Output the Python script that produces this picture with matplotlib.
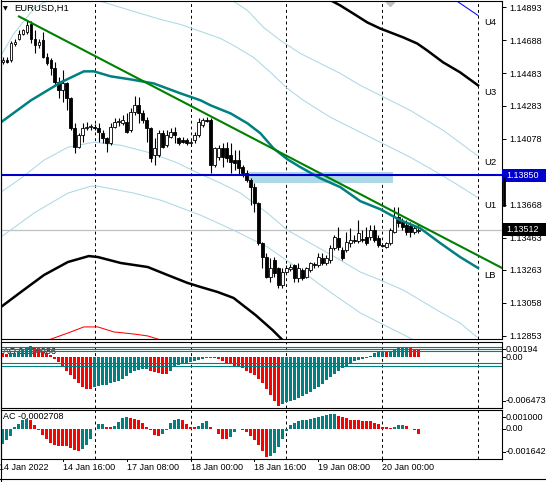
import numpy as np
import matplotlib.pyplot as plt
import matplotlib.transforms as mtransforms
from matplotlib.patches import Rectangle

plt.rcParams['font.family'] = ['Liberation Sans', 'DejaVu Sans']

# ---- EURUSD H1 candles (first bar = 14 Jan 01:00) ----
opens = [1.14552, 1.14564, 1.14564, 1.14663, 1.14700, 1.14731, 1.14738, 1.14793, 1.14700, 1.14657,
         1.14688, 1.14583, 1.14564, 1.14514, 1.14428, 1.14378, 1.14421, 1.14328, 1.14142, 1.14025,
         1.14099, 1.14142, 1.14149, 1.14149, 1.14142, 1.14111, 1.14080, 1.14050, 1.14149, 1.14180,
         1.14173, 1.14180, 1.14130, 1.14242, 1.14285, 1.14235, 1.14192, 1.14142, 1.13976, 1.13976,
         1.14111, 1.14037, 1.14087, 1.14118, 1.14080, 1.14068, 1.14068, 1.14050, 1.14068, 1.14099,
         1.14161, 1.14192, 1.14192, 1.13913, 1.13963, 1.14018, 1.14018, 1.13976, 1.13944, 1.13944,
         1.13901, 1.13863, 1.13820, 1.13777, 1.13678, 1.13430, 1.13343, 1.13219, 1.13324, 1.13275,
         1.13169, 1.13250, 1.13269, 1.13293, 1.13212, 1.13262, 1.13219, 1.13262, 1.13299, 1.13293,
         1.13337, 1.13306, 1.13324, 1.13399, 1.13461, 1.13386, 1.13386, 1.13430, 1.13448, 1.13442,
         1.13455, 1.13467, 1.13467, 1.13510, 1.13461, 1.13417, 1.13405, 1.13430, 1.13498, 1.13591,
         1.13560, 1.13541, 1.13535, 1.13498, 1.13504]
highs = [1.14583, 1.14583, 1.14682, 1.14694, 1.14750, 1.14762, 1.14812, 1.14806, 1.14750, 1.14700,
         1.14738, 1.14607, 1.14576, 1.14552, 1.14459, 1.14502, 1.14428, 1.14335, 1.14173, 1.14111,
         1.14173, 1.14180, 1.14167, 1.14167, 1.14173, 1.14130, 1.14087, 1.14173, 1.14204, 1.14204,
         1.14223, 1.14235, 1.14266, 1.14341, 1.14335, 1.14254, 1.14211, 1.14149, 1.14080, 1.14130,
         1.14130, 1.14130, 1.14142, 1.14149, 1.14087, 1.14087, 1.14080, 1.14068, 1.14118, 1.14204,
         1.14204, 1.14211, 1.14204, 1.14025, 1.14037, 1.14050, 1.14056, 1.14050, 1.14006, 1.14006,
         1.13913, 1.13882, 1.13832, 1.13802, 1.13684, 1.13436, 1.13368, 1.13337, 1.13343, 1.13281,
         1.13275, 1.13293, 1.13299, 1.13299, 1.13306, 1.13275, 1.13281, 1.13312, 1.13312, 1.13368,
         1.13368, 1.13355, 1.13417, 1.13479, 1.13529, 1.13405, 1.13498, 1.13522, 1.13479, 1.13572,
         1.13510, 1.13529, 1.13541, 1.13541, 1.13479, 1.13430, 1.13436, 1.13522, 1.13653, 1.13653,
         1.13584, 1.13572, 1.13560, 1.13541, 1.13547]
lows = [1.14539, 1.14545, 1.14552, 1.14651, 1.14688, 1.14719, 1.14731, 1.14669, 1.14607, 1.14638,
        1.14576, 1.14533, 1.14471, 1.14409, 1.14328, 1.14304, 1.14254, 1.14130, 1.13987, 1.14018,
        1.14056, 1.14130, 1.14130, 1.14130, 1.14056, 1.14050, 1.13994, 1.14037, 1.14142, 1.14155,
        1.14161, 1.14111, 1.14118, 1.14223, 1.14173, 1.14173, 1.14056, 1.13932, 1.13913, 1.13963,
        1.14018, 1.14025, 1.14080, 1.14050, 1.14037, 1.14050, 1.14037, 1.14037, 1.14050, 1.14087,
        1.14149, 1.14180, 1.13863, 1.13901, 1.13944, 1.13901, 1.13932, 1.13863, 1.13882, 1.13851,
        1.13839, 1.13808, 1.13665, 1.13622, 1.13417, 1.13275, 1.13212, 1.13188, 1.13219, 1.13151,
        1.13151, 1.13244, 1.13256, 1.13188, 1.13188, 1.13200, 1.13212, 1.13250, 1.13275, 1.13281,
        1.13293, 1.13293, 1.13306, 1.13386, 1.13386, 1.13324, 1.13374, 1.13405, 1.13430, 1.13430,
        1.13436, 1.13417, 1.13448, 1.13436, 1.13405, 1.13405, 1.13399, 1.13417, 1.13492, 1.13529,
        1.13510, 1.13479, 1.13467, 1.13486, 1.13492]
closes = [1.14564, 1.14552, 1.14669, 1.14676, 1.14731, 1.14750, 1.14781, 1.14700, 1.14657, 1.14676,
          1.14583, 1.14545, 1.14514, 1.14428, 1.14378, 1.14421, 1.14328, 1.14142, 1.14025, 1.14099,
          1.14142, 1.14149, 1.14155, 1.14142, 1.14118, 1.14080, 1.14050, 1.14149, 1.14180, 1.14186,
          1.14192, 1.14118, 1.14242, 1.14285, 1.14235, 1.14192, 1.14142, 1.13957, 1.14018, 1.14111,
          1.14025, 1.14099, 1.14118, 1.14099, 1.14050, 1.14056, 1.14050, 1.14056, 1.14099, 1.14180,
          1.14192, 1.14186, 1.13913, 1.14018, 1.14018, 1.13963, 1.13957, 1.13932, 1.13926, 1.13895,
          1.13863, 1.13820, 1.13777, 1.13678, 1.13430, 1.13343, 1.13219, 1.13275, 1.13244, 1.13169,
          1.13250, 1.13275, 1.13281, 1.13212, 1.13275, 1.13212, 1.13275, 1.13306, 1.13293, 1.13343,
          1.13306, 1.13337, 1.13399, 1.13467, 1.13405, 1.13337, 1.13436, 1.13448, 1.13442, 1.13492,
          1.13448, 1.13430, 1.13510, 1.13448, 1.13417, 1.13411, 1.13430, 1.13510, 1.13591, 1.13553,
          1.13529, 1.13498, 1.13498, 1.13522, 1.13512]

# ---- band lines, read as (bar index, price) ----
ma_x = [-0.5, 7, 14.5, 20.25, 22.75, 27, 32, 37.75, 44.5, 49.5, 52, 57, 61.25, 64.5, 67.75,
        71.25, 74.5, 79.5, 84.5, 89.5, 94.5, 99.5, 104.5, 109.5, 114.5, 119]
ma_y = [1.14180, 1.14316, 1.14428, 1.14496, 1.14496, 1.14465, 1.14446, 1.14421, 1.14359, 1.14316,
        1.14285, 1.14235, 1.14173, 1.14111, 1.14018, 1.13950, 1.13901, 1.13832, 1.13777, 1.13690,
        1.13640, 1.13572, 1.13522, 1.13430, 1.13343, 1.13275]

u1_x = [-0.5, 2.75, 7.75, 10.25, 14.5, 19.5, 23.75, 32, 39.5, 44.5, 49.5, 54.5, 57.75, 62.75,
        67, 71.25, 75.25, 82, 89.5, 94.5, 102, 107.75, 113.25, 118.75]
u1_y = [1.14595, 1.14731, 1.14886, 1.14924, 1.14955, 1.14961, 1.14936, 1.14874, 1.14818, 1.14787,
        1.14744, 1.14700, 1.14657, 1.14583, 1.14490, 1.14390, 1.14316, 1.14211, 1.14118, 1.14056,
        1.13963, 1.13882, 1.13801, 1.13715]
u2_x = [55.75, 57.5, 61.25, 65.25, 69.5, 74.5, 79.5, 84.5, 89.5, 94.5, 102, 110.25, 118.75]
u2_y = [1.14967, 1.14936, 1.14874, 1.14769, 1.14688, 1.14607, 1.14545, 1.14483, 1.14409, 1.14347,
        1.14254, 1.14130, 1.13975]
u3_x = [80.75, 84.5, 87.75, 91.25, 94.5, 100.25, 103.75, 106.25, 110.25, 114.5, 119]
u3_y = [1.14955, 1.14905, 1.14855, 1.14800, 1.14762, 1.14707, 1.14669, 1.14626, 1.14552, 1.14490,
        1.14409]
u4_x = [112, 119]
u4_y = [1.14961, 1.14843]

l1_x = [-0.5, 4.5, 10.25, 16.25, 22.75, 29.5, 36.25, 43.25, 49.5, 54.5, 59.5, 66.25, 71.25, 77,
        82.75, 89.5, 94.5, 100.25, 104.5, 109.5, 114.5, 118.75]
l1_y = [1.13746, 1.13832, 1.13944, 1.14025, 1.14056, 1.14037, 1.13994, 1.13932, 1.13857, 1.13802,
        1.13740, 1.13616, 1.13510, 1.13429, 1.13349, 1.13250, 1.13200, 1.13138, 1.13076, 1.13002,
        1.12933, 1.12846]
l2_x = [-0.5, 7.75, 16.25, 22, 23.75, 32.75, 39.5, 49.5, 57.75, 66.25, 72.75, 81.25, 89.5, 94.5,
        99.5, 104.5]
l2_y = [1.13467, 1.13616, 1.13740, 1.13783, 1.13783, 1.13740, 1.13696, 1.13603, 1.13510, 1.13405,
        1.13293, 1.13138, 1.12996, 1.12933, 1.12871, 1.12809]
l3_x = [-0.5, 4.5, 10.25, 16.25, 21.5, 23.75, 29.5, 36.25, 41.25, 46.25, 49.5, 53.75, 57.75,
        63.25, 67.5, 70.5]
l3_y = [1.13033, 1.13126, 1.13231, 1.13312, 1.13349, 1.13343, 1.13306, 1.13281, 1.13231, 1.13182,
        1.13157, 1.13126, 1.13089, 1.12983, 1.12890, 1.12816]
l4_x = [10.75, 12.75, 16.25, 20.25, 23.75, 27.75, 32.75, 36.25, 39.5]
l4_y = [1.12822, 1.12840, 1.12871, 1.12909, 1.12909, 1.12878, 1.12865, 1.12853, 1.12828]

# trend line anchors, levels, zone
trend_x = [4, 125]
trend_y = [1.14837, 1.13275]
level_price = 1.13850
last_price = 1.13512
zone_x = [61.5, 97.75]
zone_y = [1.13803, 1.13871]
marker_x = [97]
marker_y = [1.14928]

band_labels = ['U4', 'U3', 'U2', 'U1', 'LB']
band_label_y = [1.14800, 1.14366, 1.13932, 1.13665, 1.13231]

# 1.13873 sits under the level box, so it is left out
price_ticks = [1.14893, 1.14688, 1.14483, 1.14283, 1.14078, 1.13668, 1.13463,
               1.13263, 1.13058, 1.12853]

# ---- Awesome / Accelerator oscillators ----
ao = [0.00058, 0.00041, 0.00049, 0.00058, 0.00075, 0.00092, 0.00113, 0.00143, 0.00126, 0.00100,
      0.00075, 0.00049, 0.00024, -0.00019, -0.00065, -0.00121, -0.00172, -0.00227, -0.00282, -0.00333,
      -0.00376, -0.00401, -0.00410, -0.00384, -0.00367, -0.00359, -0.00350, -0.00333, -0.00320, -0.00299,
      -0.00274, -0.00240, -0.00206, -0.00180, -0.00167, -0.00155, -0.00150, -0.00172, -0.00189, -0.00201,
      -0.00210, -0.00212, -0.00172, -0.00125, -0.00095, -0.00078, -0.00070, -0.00061, -0.00048, -0.00031,
      -0.00019, -0.00010, -0.00006, -0.00014, -0.00027, -0.00048, -0.00070, -0.00091, -0.00112, -0.00121,
      -0.00142, -0.00172, -0.00197, -0.00231, -0.00278, -0.00333, -0.00410, -0.00486, -0.00559, -0.00617,
      -0.00597, -0.00576, -0.00559, -0.00542, -0.00525, -0.00499, -0.00474, -0.00444, -0.00410, -0.00376,
      -0.00338, -0.00295, -0.00252, -0.00218, -0.00180, -0.00142, -0.00108, -0.00074, -0.00053, -0.00036,
      -0.00023, -0.00006, 0.00015, 0.00049, 0.00064, 0.00066, 0.00062, 0.00083, 0.00109, 0.00126,
      0.00128, 0.00130, 0.00126, 0.00109, 0.000986]
ac = [-0.00081, -0.00063, -0.00041, 0.00011, 0.00026, 0.00044, 0.00052, 0.00044, 0.00020, -0.00007,
      -0.00035, -0.00059, -0.00078, -0.00089, -0.00092, -0.00094, -0.00096, -0.00103, -0.00115, -0.00122,
      -0.00109, -0.00091, -0.00054, -0.00004, 0.00022, 0.00026, 0.00011, 0.00007, 0.00015, 0.00037,
      0.00055, 0.00061, 0.00059, 0.00052, 0.00044, 0.00031, 0.00011, -0.00007, -0.00033, -0.00041,
      -0.00030, -0.00007, 0.00030, 0.00046, 0.00050, 0.00044, 0.00024, 0.00011, 0.00007, 0.00015,
      0.00030, 0.00043, 0.00011, -0.00004, -0.00031, -0.00055, -0.00059, -0.00044, -0.00018, -0.00004,
      -0.00006, -0.00017, -0.00041, -0.00063, -0.00091, -0.00122, -0.00152, -0.00150, -0.00133, -0.00100,
      -0.00057, -0.00011, 0.00020, 0.00030, 0.00039, 0.00044, 0.00048, 0.00052, 0.00057, 0.00063,
      0.00070, 0.00074, 0.00076, 0.00079, 0.00070, 0.00063, 0.00055, 0.00048, 0.00046, 0.00044,
      0.00043, 0.00042, 0.00039, 0.00031, 0.00022, 0.00011, 0.00006, 0.00002, 0.00007, 0.00017,
      0.00018, 0.00015, 0.00000, -0.00009, -0.0002708]
ao_levels = [0.00125, 0.00100, 0.00082, -0.00078, -0.00106]
ao_range = (-0.006473, 0.00194)
ac_range = (-0.001642, 0.001000)

# time axis
tick_idx = [-1, 15, 31, 47, 63, 79, 95]
tick_lbl = ['14 Jan 2022', '14 Jan 16:00', '17 Jan 08:00', '18 Jan 00:00',
            '18 Jan 16:00', '19 Jan 08:00', '20 Jan 00:00']
day_idx = [23, 47, 71, 95, 119]

W, H = 546, 482
TEAL, RED, LBLUE = '#008080', '#ff0000', '#add8e6'
FS = 6.5


def box(x0, y0, x1, y1):
    return [x0 / W, 1 - y1 / H, (x1 - x0) / W, (y1 - y0) / H]


fig = plt.figure(figsize=(W / 100, H / 100), dpi=100)
ax = fig.add_axes(box(1, 0.5, 502, 339))
ax_ao = fig.add_axes(box(1, 342, 502, 408))
ax_ac = fig.add_axes(box(1, 410, 502, 459))

idx = np.arange(len(opens))
o, h, l, c = map(np.array, (opens, highs, lows, closes))

for a in (ax, ax_ao, ax_ac):
    a.set_xlim(-0.5, 125)
    a.set_xticks([])
    for s in a.spines.values():
        s.set_linewidth(0.8)
    for d in day_idx:
        a.axvline(d, color='black', lw=0.7, ls=(0, (3, 3)), zorder=1)

# ---- main panel ----
ax.set_ylim(1.12834, 1.14936)
ax.yaxis.tick_right()
ax.set_yticks(price_ticks)
ax.set_yticklabels([f'{p:.5f}' for p in price_ticks])
ax.tick_params(axis='y', length=3, width=0.7, pad=2, labelsize=FS)

ax.fill_between(zone_x, zone_y[0], zone_y[1], color=LBLUE, lw=0, zorder=1.5)
ax.axhline(last_price, color='#c0c0c0', lw=0.9, zorder=1.6)
ax.axhline(level_price, color='#0000cd', lw=1.5, zorder=6)

for xs, ys in ((u1_x, u1_y), (u2_x, u2_y), (l1_x, l1_y), (l2_x, l2_y)):
    ax.plot(xs, ys, color=LBLUE, lw=0.75, zorder=2)
ax.plot(u3_x, u3_y, color='black', lw=1.8, zorder=2)
ax.plot(l3_x, l3_y, color='black', lw=1.8, zorder=2)
ax.plot(u4_x, u4_y, color='blue', lw=0.75, zorder=2)
ax.plot(l4_x, l4_y, color=RED, lw=0.75, zorder=2)
ax.plot(ma_x, ma_y, color=TEAL, lw=1.8, zorder=5)
ax.plot(trend_x, trend_y, color='#008000', lw=1.5, zorder=5)
ax.plot(marker_x, marker_y, marker='D', ms=4, color='#c0c0c0', lw=0, zorder=2)

up = c >= o
body_lo = np.minimum(o, c)
body_h = np.maximum(np.abs(c - o), 0.00002)
ax.vlines(idx, l, h, color='black', lw=0.8, zorder=3)
ax.bar(idx, body_h, 0.7, bottom=body_lo, color=np.where(up, 'white', 'black'),
       edgecolor='black', lw=0.6, zorder=4)

for name, y in zip(band_labels, band_label_y):
    ax.text(120.5, y, name, fontsize=FS + 0.3, ha='left', va='center', zorder=7)

ax.text(13 / 501, 1 - 8 / 339, 'EURUSD,H1', transform=ax.transAxes, fontsize=6.8,
        ha='left', va='center', zorder=7)
ax.text(2 / 501, 1 - 8 / 339, '\u25bc', transform=ax.transAxes, fontsize=4.5,
        family='DejaVu Sans', ha='left', va='center', zorder=7)

# price boxes on the axis
bt = mtransforms.blended_transform_factory(ax.transAxes, ax.transData)
half = 6.5 * (1.14936 - 1.12834) / 338.5
for price, bg in ((level_price, '#0000cd'), (last_price, 'black')):
    ax.add_patch(Rectangle((1.0, price - half), 0.1, 2 * half, transform=bt,
                           facecolor=bg, edgecolor='none', clip_on=False, zorder=8))
    ax.text(1.008, price, f'{price:.5f}', transform=bt, color='white', fontsize=FS,
            ha='left', va='center', zorder=9, clip_on=False)
ax.plot([1.003, 1.003], [1.13826, 1.13665], transform=bt, color='black', lw=2,
        clip_on=False, zorder=8)


def osc_panel(a, vals, rng, first_up, label, levels=()):
    vals = np.array(vals)
    rising = np.r_[first_up, np.diff(vals) > 0]
    a.bar(idx, vals, 0.75, color=np.where(rising, TEAL, RED), lw=0, zorder=3)
    for lv in levels:
        a.axhline(lv, color=TEAL, lw=0.8, zorder=4)
    a.set_ylim(*rng)
    a.set_yticks([])
    a.text(2 / 501, 0.86, label, transform=a.transAxes, fontsize=FS, ha='left',
           va='center', zorder=2)
    hpx = a.get_position().height * H
    tb = mtransforms.blended_transform_factory(a.transAxes, a.transData)
    marks = [(1 - 7.3 / hpx, rng[1], a.transAxes), (None, 0.0, tb), (7.3 / hpx, rng[0], a.transAxes)]
    for yy, v, tr in marks:
        pos = v if yy is None else yy
        txt = '0.00' if v == 0 else (f'{v:.5f}' if abs(v) > 0.0019 and v > 0 else f'{v:.6f}')
        a.text(1.008, pos, txt, transform=tr, fontsize=FS, ha='left', va='center', clip_on=False)
        a.plot([1.0, 1.006], [pos, pos], transform=tr, color='black', lw=0.7, clip_on=False)


osc_panel(ax_ao, ao, ao_range, False, 'AO 0.000986', ao_levels)
osc_panel(ax_ac, ac, ac_range, True, 'AC -0.0002708')

xt = mtransforms.blended_transform_factory(ax_ac.transData, ax_ac.transAxes)
for i, t in zip(tick_idx, tick_lbl):
    ax_ac.text(i, -9 / 49, t, transform=xt, fontsize=FS, ha='left', va='center', clip_on=False)
    ax_ac.plot([i, i], [0, -0.05], transform=xt, color='black', lw=0.7, clip_on=False)

# outer frame of the terminal window
fig.add_artist(plt.Line2D([0.5 / W, 0.5 / W], [0, 1], color='black', lw=0.8))
fig.add_artist(plt.Line2D([0, 1], [3 / H, 3 / H], color='black', lw=0.8))

fig.savefig('out.png', dpi=100)
